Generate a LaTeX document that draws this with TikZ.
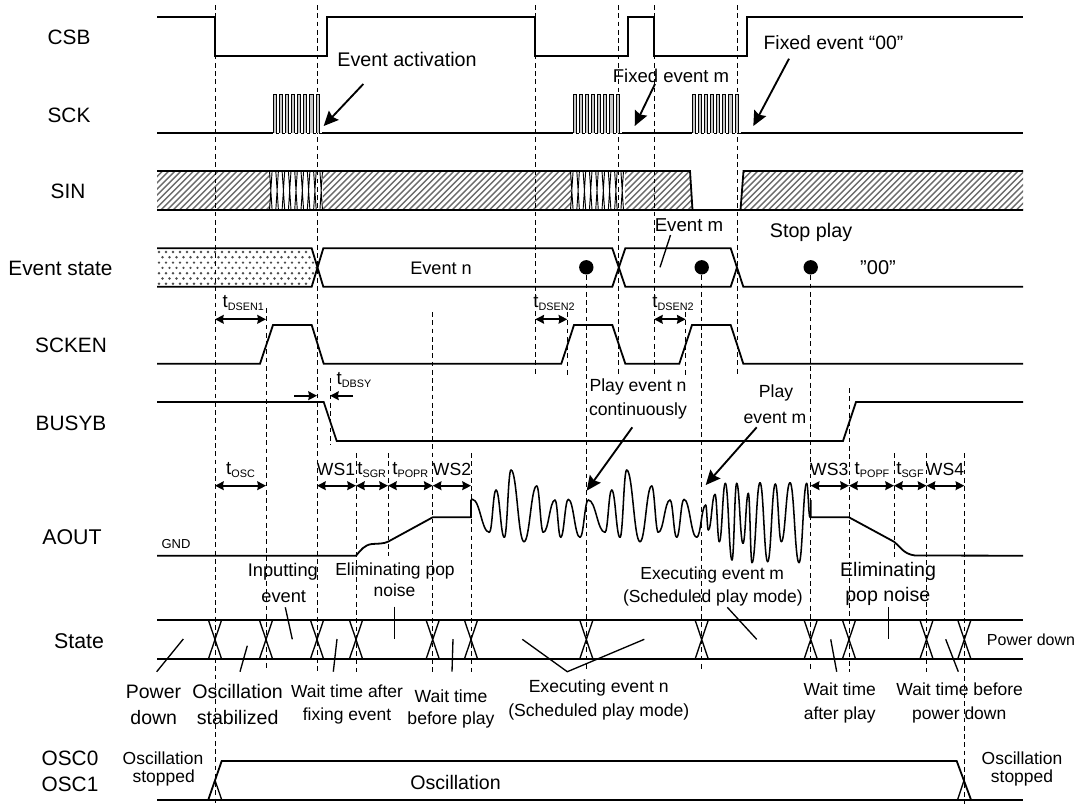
\documentclass[tikz,border=0pt]{standalone}
\usepackage{fontspec}
\setmainfont{Liberation Sans}
\usetikzlibrary{arrows.meta}
\newcommand{\tsub}[2]{{\fontsize{14}{14}\selectfont t}\raisebox{-2.2pt}{\fontsize{8.1}{9}\selectfont #1}}
\tikzset{
  sig/.style={line width=1.35pt,line join=miter},
  thin sig/.style={line width=.7pt},
  dash line/.style={line width=.75pt,dash pattern=on 3.6pt off 2.6pt,black},
  leader/.style={line width=1pt},
  big arrow/.style={line width=1.4pt,-{Stealth[length=11pt,width=10pt,inset=1.5pt]}},
  dim arrow/.style={line width=1.4pt,{Stealth[length=6.5pt,width=6.5pt,inset=.6pt]}-{Stealth[length=6.5pt,width=6.5pt,inset=.6pt]}},
  half arrow/.style={line width=1.4pt,-{Stealth[length=6.5pt,width=6.5pt,inset=.6pt]}},
  lab/.style={inner sep=0pt,anchor=center,font=\fontsize{#1}{#1}\selectfont},
  lab/.default=13.2
}
\begin{document}
\begin{tikzpicture}[x=0.75pt,y=-0.75pt]
\useasboundingbox (0,0) rectangle (1087,804);
% ---------- hatching
\begin{scope}
 \clip (157,171) -- (270,171) -- (270,210) -- (157,210) -- cycle
       (323,171) -- (571,171) -- (571,210) -- (323,210) -- cycle
       (625,171) -- (690,171) -- (692.5,210) -- (625,210) -- cycle
       (743.5,171) -- (1023,171) -- (1023,210) -- (740.5,210) -- cycle;
 \foreach \k in {0,6.2,...,960}
   \draw[line width=1.05pt,black!58] (100+\k,215) -- (150+\k,165);
\end{scope}
\begin{scope}
 \clip (157,248) -- (311.7,248) -- (317,267) -- (311.7,286.7) -- (157,286.7) -- cycle;
 \foreach \c in {0,...,22} \foreach \r in {0,2,4,6} {
   \fill[black!70] (159+7*\c,252+5.3*\r) circle (1pt);
   \fill[black!70] (162.5+7*\c,257.3+5.3*\r) circle (1pt);
 }
\end{scope}
% ---------- dashed verticals
\foreach \x/\a/\b in {215/5/804,317/5/672,535.3/5/377,618.7/5/377,654/5/377,737/5/377,
  266/308/668,330/378/445,356/453/672,388/453/556,432.7/312/672,471/453/672,
  586.3/267/672,701.7/267/672,810.7/267/672,849/388/672,894/453/557,926.5/453/672,964.3/453/804,
  567.3/312/377,685.7/312/377}
  \draw[dash line] (\x,\a) -- (\x,\b);
% ---------- CSB
\draw[sig] (157,17) -- (215,17) -- (215,56) -- (327,56) -- (327,17) -- (535,17) -- (535,56) -- (628,56) -- (628,17) -- (654,17) -- (654,56) -- (746.7,56) -- (746.7,17) -- (1023,17);
% ---------- SCK
\draw[sig] (157,133) -- (273,133) (322,133) -- (573,133) (622,133) -- (692,133) (740.5,133) -- (1023,133);
\foreach \s in {273,573,692}
 \foreach \i in {0,...,7} {
   \draw[thin sig,fill=black!22] ({\s+\i*6.15},133) -- ({\s+\i*6.15},94) -- ({\s+\i*6.15+3.1},94) -- ({\s+\i*6.15+3.1},133);
   \draw[thin sig] ({\s+\i*6.15+3.1},133) -- ({\s+\i*6.15+6.15},133);
 }
% ---------- SIN
\draw[sig] (157,171) -- (690,171) -- (692.5,210) (157,210) -- (740.5,210) -- (743.5,171) -- (1023,171) (740.5,210) -- (1023,210);
\foreach \s in {269.5,570.5}
 \foreach \i in {0,...,8} {
   \draw[thin sig] ({\s+\i*6.3},171) -- ({\s+\i*6.3+2.6},210) ({\s+\i*6.3+2.6},171) -- ({\s+\i*6.3},210);
 }
% ---------- Event state
\draw[sig] (157,248.3) -- (311.7,248.3) -- (323.3,286.7) -- (612.3,286.7) -- (625.3,248.3) -- (730.7,248.3) -- (743.3,286.7) -- (1023,286.7)
           (157,286.7) -- (311.7,286.7) -- (323.3,248.3) -- (612.3,248.3) -- (625.3,286.7) -- (730.7,286.7) -- (737,267.5);
\foreach \x in {586.3,701.7,810.7} \fill (\x,267.3) circle (7.2);
\draw[leader] (670.5,235) -- (660,267.3);
% ---------- SCKEN
\draw[sig] (157,363.7) -- (260,363.7) -- (273,325) -- (311.7,325) -- (323.7,363.7) -- (561.3,363.7) -- (574,325) -- (612.3,325) -- (625.3,363.7) -- (679.3,363.7) -- (692,325) -- (730.7,325) -- (743.3,363.7) -- (1023,363.7);
% ---------- BUSYB
\draw[sig] (157,402) -- (323.7,402) -- (336.7,441) -- (843,441) -- (856,402) -- (1023,402);
% ---------- AOUT
\draw[sig] (157,555.7) -- (356,555.7) .. controls (361,550) and (364,545) .. (372,544) .. controls (378,543.5) and (383,544) .. (388,541.7) -- (432.7,517.3) -- (471,517.3) -- (471,500);
\draw[sig] (810.7,500) -- (810.7,517.3) -- (849,517.3) -- (894,541.7) .. controls (900,546) and (903,554) .. (915,555.5) -- (1023,555.7);
\begin{scope}[shift={(440,380)},x=0.25pt,y=-0.25pt]
 \foreach \x/\y [remember=\x as \px (initially 93),remember=\y as \py (initially 360)] in
  {97/358,148/457,168/330,193/472,213/270,252/485,290/318,310/457,345/360,362/472,385/358,420/472,445/360,
   495/457,515/330,540/472,560/270,600/485,635/318,655/457,690/360,710/472,732/358,770/472,797/375,805/450,
   825/343,838/485,856/310,876/540,890/310,909/490,925/340,936/548,960/308,983/545,1006/312,1024/485,
   1050/308,1077/548,1100/310,1110/412}
  \draw[line width=1.15pt,line cap=round] (\px,\py) .. controls ({\px+0.45*(\x-\px)},\py) and ({\x-0.45*(\x-\px)},\y) .. (\x,\y);
\end{scope}
% ---------- State
\draw[sig] (157,620) -- (1023,620) (157,659) -- (1023,659);
\foreach \x in {215,266,317,356,432.7,471,586.3,701.7,810.7,849,926.5,964.3}
  \draw[leader] ({\x-6.6},620) -- ({\x+6.6},659) ({\x+6.6},620) -- ({\x-6.6},659);
% leaders
\draw[leader] (156.7,671.7) -- (183.3,639);
\draw[leader] (240,671.7) -- (247.3,645.7);
\draw[leader] (285.3,607.3) -- (292.3,639.3);
\draw[leader] (333.3,671.7) -- (337,639);
\draw[leader] (394.3,606.7) -- (394.3,639.3);
\draw[leader] (452,671.7) -- (453,639);
\draw[leader] (522.3,639.3) -- (567.3,671.7) -- (644.3,639.3);
\draw[leader] (727.3,607.3) -- (756.7,639.3);
\draw[leader] (830.7,639.3) -- (836.7,671.7);
\draw[leader] (888.7,607.3) -- (888.7,639.3);
\draw[leader] (945.7,639.3) -- (958.3,671.7);
% ---------- OSC
\draw[sig] (157,799.7) -- (1023,799.7);
\draw[sig] (208.3,799.7) -- (221.7,761) -- (956.7,761) -- (971,799.7);
\draw[leader] (215,780.3) -- (221.7,799.7);
\draw[leader] (964,780.3) -- (957.6,799.7);
% ---------- arrows
\draw[big arrow] (363.3,84) -- (323.7,126);
\draw[big arrow] (655,84) -- (634.7,126);
\draw[big arrow] (789,58.7) -- (753.3,126);
\draw[big arrow] (632.3,427.3) -- (586.7,490.7);
\draw[big arrow] (756.7,427.3) -- (705.7,485);
\foreach \a/\b/\y in {215/266/319.3,535.3/567.3/319.3,654/685.7/319.3,
  215/266/485.7,317/356/485.7,356/388/485.7,388/432.7/485.7,432.7/471/485.7,
  810.7/849/485.7,849/894/485.7,894/926.5/485.7,926.5/964.3/485.7}
  \draw[dim arrow] (\a,\y) -- (\b,\y);
\draw[half arrow] (294,395.7) -- (317,395.7);
\draw[half arrow] (353,395.7) -- (330,395.7);
% ---------- signal names
\node[lab=15.6] (nCSB) at (69,37) {CSB};
\node[lab=15.6] (nSCK) at (69,115) {SCK};
\node[lab=15.6] (nSIN) at (68,191) {SIN};
\node[lab=15.6] (nEvt) at (60.5,268) {Event state};
\node[lab=15.6] (nSCKEN) at (71,345) {SCKEN};
\node[lab=15.6] (nBUSYB) at (71,423) {BUSYB};
\node[lab=16] (nAOUT) at (72,537) {AOUT};
\node[lab=16] (nState) at (79,641) {State};
\node[lab=15.6] (nOSC0) at (70,758) {OSC0};
\node[lab=15.6] (nOSC1) at (70,784) {OSC1};
\node[lab=9.75] (nGND) at (176,544.5) {GND};
% ---------- annotations
\node[lab=14.8] (a1) at (407,59) {Event activation};
\node[lab=13.9] (a2) at (671,76) {Fixed event m};
\node[lab=14.5] (a3) at (833.5,43) {Fixed event “00”};
\node[lab=14] (a4) at (689,225) {Event m};
\node[lab=14.8] (a5) at (811,232) {Stop play};
\node[lab=13.6] (a6) at (441,268) {Event n};
\node[lab=15] (a7) at (878,268) {”00”};
\node[lab=13.2] (a8) at (638,387) {Play event n};
\node[lab=13.2] (a9) at (638,411) {continuously};
\node[lab=13.2] (a10) at (776,393) {Play};
\node[lab=13.2] (a11) at (775,418) {event m};
% ---------- timing labels
\node[lab=13] (t1) at (243.3,303) {\tsub{DSEN1}{}};
\node[lab=13] (t2) at (554,303) {\tsub{DSEN2}{}};
\node[lab=13] (t3) at (673,303) {\tsub{DSEN2}{}};
\node[lab=13] (t4) at (354,380) {\tsub{DBSY}{}};
\node[lab=13] (t5) at (240.5,470) {\tsub{OSC}{}};
\node[lab=13.2] (t6) at (336,469) {WS1};
\node[lab=13] (t7) at (371.7,470) {\tsub{SGR}{}};
\node[lab=13] (t8) at (410.3,470) {\tsub{POPR}{}};
\node[lab=13.2] (t9) at (452,469) {WS2};
\node[lab=13.2] (t10) at (829.3,469) {WS3};
\node[lab=13] (t11) at (872,470) {\tsub{POPF}{}};
\node[lab=13] (t12) at (910,470) {\tsub{SGF}{}};
\node[lab=13.2] (t13) at (945,469) {WS4};
% ---------- state captions
\node[lab=13.7] (s1) at (282.8,572) {Inputting};
\node[lab=13.7] (s2) at (283.7,596.7) {event};
\node[lab=13.1] (s3) at (395,570.7) {Eliminating pop};
\node[lab=13.1] (s4) at (394.5,590) {noise};
\node[lab=13.1] (s5) at (712.2,575) {Executing event m};
\node[lab=13.1] (s6) at (712.8,598.3) {(Scheduled play mode)};
\node[lab=14.7] (s7) at (888,571.7) {Eliminating};
\node[lab=14.7] (s8) at (887.8,596.7) {pop noise};
\node[lab=12] (s9) at (1031,640) {Power down};
\node[lab=14.6] (s10) at (153.5,691.7) {Power};
\node[lab=14.6] (s11) at (153.7,717.3) {down};
\node[lab=14.7] (s12) at (237.7,691.7) {Oscillation};
\node[lab=14.7] (s13) at (237.7,717.3) {stabilized};
\node[lab=13.1] (s14) at (347,691) {Wait time after};
\node[lab=13.1] (s15) at (347,716) {fixing event};
\node[lab=13.2] (s16) at (451,695.7) {Wait time};
\node[lab=13.2] (s17) at (451,720) {before play};
\node[lab=13.2] (s18) at (598.7,688.3) {Executing event n};
\node[lab=13.2] (s19) at (598.8,711.7) {(Scheduled play mode)};
\node[lab=13.1] (s20) at (839.7,689) {Wait time};
\node[lab=13.1] (s21) at (839.7,715) {after play};
\node[lab=13.1] (s22) at (959.7,689) {Wait time before};
\node[lab=13.1] (s23) at (959.2,715) {power down};
\node[lab=13.1] (s24) at (163,758.3) {Oscillation};
\node[lab=13.1] (s25) at (163.7,778.3) {stopped};
\node[lab=14.7] (s26) at (455.5,782.3) {Oscillation};
\node[lab=13.1] (s27) at (1022,758.3) {Oscillation};
\node[lab=13.1] (s28) at (1022,777.7) {stopped};
\end{tikzpicture}
\end{document}
